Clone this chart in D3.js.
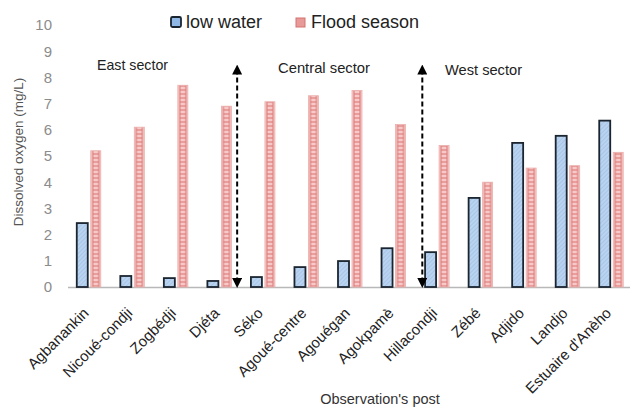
<!DOCTYPE html>
<html><head><meta charset="utf-8">
<script src="https://cdn.jsdelivr.net/npm/d3@7"></script>
<style>body{margin:0;background:#fff}svg{display:block}</style>
</head><body><svg id="c" width="630" height="410"></svg>
<script>
const categories = ["Agbanankin","Nicoué-condji","Zogbédji","Djéta","Séko","Agoué-centre","Agouégan","Agokpamè","Hillacondji","Zébé","Adjido","Landjo","Estuaire d'Anèho"];
const lowWater = [2.44,0.42,0.34,0.23,0.38,0.76,0.99,1.48,1.33,3.40,5.50,5.77,6.35];
const floodSeason = [5.20,6.10,7.70,6.90,7.07,7.30,7.50,6.20,5.40,4.00,4.54,4.63,5.14];
const yTicks = [0,1,2,3,4,5,6,7,8,9,10];
const seriesNames = ["low water","Flood season"];
const sectors = ["East sector","Central sector","West sector"];

const FONT = "Liberation Sans, Arial, sans-serif";
const svg = d3.select("#c");
const m = {l:67, r:633, t:25, b:287};
const x = d3.scaleBand().domain(categories).range([m.l, m.r]);
const y = d3.scaleLinear().domain([0,10]).range([m.b, m.t]);

const defs = svg.append("defs");
const ph = defs.append("pattern").attr("id","hatch").attr("patternUnits","userSpaceOnUse")
  .attr("width",3).attr("height",3).attr("patternTransform","rotate(45)");
ph.append("rect").attr("width",3).attr("height",3).attr("fill","#b9d3f0");
ph.append("line").attr("x1",0).attr("y1",0).attr("x2",0).attr("y2",3).attr("stroke","#8fb2dc").attr("stroke-width",0.8);

const bwLow = 11, bwFl = 10, gap = 3;
const pairW = bwLow + gap + bwFl;
const lowX = (d)=>x(d)+x.bandwidth()/2-pairW/2;
const flX = (d)=>lowX(d)+bwLow+gap;

// per-bar brick patterns aligned to each flood bar
categories.forEach((d,i)=>{
  const p = defs.append("pattern").attr("id","brick"+i).attr("patternUnits","userSpaceOnUse")
    .attr("x",flX(d)).attr("y",0).attr("width",bwFl).attr("height",4);
  p.append("rect").attr("width",bwFl).attr("height",4).attr("fill","#f6cac8");
  p.append("line").attr("x1",2).attr("x2",2).attr("y1",0).attr("y2",4).attr("stroke","#dc7a78").attr("stroke-width",1.1);
  p.append("line").attr("x1",bwFl-2).attr("x2",bwFl-2).attr("y1",0).attr("y2",4).attr("stroke","#dc7a78").attr("stroke-width",1.1);
  p.append("line").attr("x1",2).attr("x2",bwFl-2).attr("y1",2).attr("y2",2).attr("stroke","#dc7a78").attr("stroke-width",1.1);
});

// y tick labels
svg.append("g").selectAll("text").data(yTicks).join("text")
  .attr("x",52).attr("y",d=>y(d)).attr("dy","0.36em").attr("text-anchor","end")
  .attr("font-family",FONT).attr("font-size",15).attr("fill","#8c8c8c")
  .text(d=>d);

// axis line
svg.append("line").attr("x1",m.l+1).attr("x2",630).attr("y1",y(0)+0.5).attr("y2",y(0)+0.5)
  .attr("stroke","#b8b8b8").attr("stroke-width",1.5);

// bars
const g = svg.append("g");
g.selectAll("rect.low").data(categories).join("rect").attr("class","low")
  .attr("x",d=>lowX(d))
  .attr("y",(d,i)=>y(lowWater[i]))
  .attr("width",bwLow).attr("height",(d,i)=>y(0)-y(lowWater[i]))
  .attr("fill","url(#hatch)").attr("stroke","#1b2530").attr("stroke-width",1.8);
g.selectAll("rect.fl").data(categories).join("rect").attr("class","fl")
  .attr("x",d=>flX(d))
  .attr("y",(d,i)=>y(floodSeason[i]))
  .attr("width",bwFl).attr("height",(d,i)=>y(0)-y(floodSeason[i]))
  .attr("fill",(d,i)=>`url(#brick${i})`).attr("stroke","#eaaeac").attr("stroke-width",0.8);

// x labels
svg.append("g").selectAll("text").data(categories).join("text")
  .attr("transform",d=>`translate(${x(d)+x.bandwidth()/2+1},${y(0)+27}) rotate(-45)`)
  .attr("text-anchor","end")
  .attr("font-family",FONT).attr("font-size",15).attr("fill","#222")
  .text(d=>d);

// axis titles
svg.append("text").attr("transform",`translate(23,152) rotate(-90)`)
  .attr("text-anchor","middle").attr("font-family",FONT)
  .attr("font-size",13.5).attr("fill","#555").text("Dissolved oxygen (mg/L)");
svg.append("text").attr("x",380).attr("y",404).attr("text-anchor","middle")
  .attr("font-family",FONT).attr("font-size",14.5).attr("fill","#333")
  .text("Observation's post");

// legend
const lg = svg.append("g").attr("font-family",FONT);
lg.append("rect").attr("x",171).attr("y",17).attr("width",10).attr("height",10).attr("rx",1.5)
  .attr("fill","#8fb8e6").attr("stroke","#1b2530").attr("stroke-width",1.8);
lg.append("text").attr("x",186).attr("y",28).attr("font-size",18).attr("fill","#222").text(seriesNames[0]);
lg.append("rect").attr("x",296).attr("y",18).attr("width",9).attr("height",9)
  .attr("fill","#e79a98").attr("stroke","#d37270").attr("stroke-width",1);
lg.append("text").attr("x",311).attr("y",28).attr("font-size",18).attr("fill","#222").text(seriesNames[1]);

// sector labels
const sx = [97, 278, 445], sy = [70, 73, 75];
svg.append("g").selectAll("text").data(sectors).join("text")
  .attr("x",(d,i)=>sx[i]).attr("y",(d,i)=>sy[i])
  .attr("font-family",FONT).attr("font-size",14.5).attr("fill","#222")
  .attr("textLength",(d,i)=>[71,92,77][i]).attr("lengthAdjust","spacingAndGlyphs")
  .text(d=>d);

// arrows
defs.append("marker").attr("id","ah").attr("viewBox","0 0 10 10").attr("refX",5).attr("refY",5)
  .attr("markerWidth",5).attr("markerHeight",5).attr("orient","auto-start-reverse")
  .append("path").attr("d","M0,0 L10,5 L0,10 z").attr("fill","#000");
const arrowX = [x(categories[4]) - 4, x(categories[8]) + 7];
svg.append("g").selectAll("line").data(arrowX).join("line")
  .attr("x1",d=>d).attr("x2",d=>d).attr("y1",y(8.3)).attr("y2",y(0)-4)
  .attr("stroke","#000").attr("stroke-width",2).attr("stroke-dasharray","5,3")
  .attr("marker-start","url(#ah)").attr("marker-end","url(#ah)");
</script></body></html>
